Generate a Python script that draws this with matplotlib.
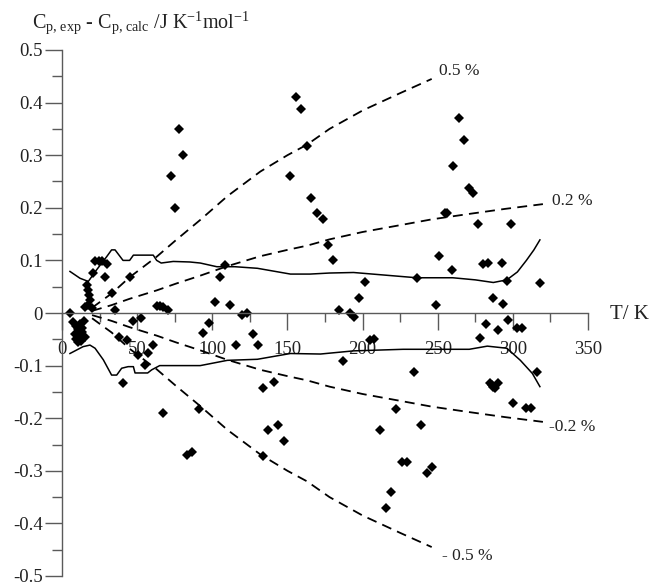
import matplotlib
matplotlib.use("Agg")
import matplotlib.pyplot as plt
import numpy as np

plt.rcParams['font.family'] = ['Liberation Serif', 'DejaVu Serif']
plt.rcParams['mathtext.fontset'] = 'custom'
plt.rcParams['mathtext.rm'] = 'Liberation Serif'
plt.rcParams['mathtext.it'] = 'Liberation Serif:italic'

# ---------------- data ----------------
pts_T = [5.5, 7.5, 9.5, 12, 14.5, 8.5, 10.5, 11.5, 12.5, 13.5, 15, 10.5, 9, 13,
         15.3, 17.3, 19.7, 16.4, 17.5, 18, 18.6, 20.7, 22, 24.5, 26.4, 30, 28.6, 33, 35, 45,
         38, 43, 47.5, 52.5, 50.3, 55.5, 57.3, 60.7, 40.7, 63, 65, 67.5, 70.8, 67.5, 83, 86.5, 91,
         72.5, 75, 78, 80.3, 94, 98, 102, 105, 108.5, 112, 116, 119.5, 123, 127, 130.5,
         134, 141, 137, 144, 148, 134,
         155.7, 159, 162.8, 152, 166, 169.7, 173.5, 177, 180.5, 201.6, 197.8, 184, 191.6, 194.5,
         187, 205, 207.5, 234, 222.5, 211.6, 239, 226, 229.3, 242.6, 246, 218.7, 215.6,
         236, 249, 250.8, 254.8, 256.4, 259.3, 260.4, 264.4, 267.5, 270.8, 273.7, 277, 280, 283.2,
         292.5, 298.7, 296, 318, 286.5, 293.6, 297, 282, 290, 278, 303, 306,
         284.8, 287, 290, 288, 286, 315.8, 300, 308.7, 312]
pts_v = [0.0, -0.018, -0.025, -0.02, -0.016, -0.04, -0.03, -0.046, -0.053, -0.036, -0.045, -0.055, -0.05, -0.028,
         0.012, 0.016, 0.01, 0.053, 0.044, 0.034, 0.025, 0.076, 0.099, 0.099, 0.099, 0.094, 0.069, 0.038, 0.006, 0.069,
         -0.045, -0.051, -0.015, -0.01, -0.08, -0.099, -0.076, -0.061, -0.133, 0.013, 0.013, 0.012, 0.005, -0.19, -0.27, -0.264, -0.182,
         0.26, 0.2, 0.35, 0.3, -0.038, -0.019, 0.02, 0.069, 0.091, 0.015, -0.061, -0.004, 0.0, -0.039, -0.061,
         -0.142, -0.132, -0.222, -0.212, -0.243, -0.272,
         0.41, 0.388, 0.318, 0.26, 0.219, 0.19, 0.179, 0.129, 0.1, 0.059, 0.028, 0.005, 0.0, -0.008,
         -0.092, -0.051, -0.05, -0.113, -0.182, -0.223, -0.212, -0.283, -0.283, -0.304, -0.293, -0.341, -0.371,
         0.067, 0.016, 0.109, 0.19, 0.19, 0.082, 0.28, 0.37, 0.329, 0.237, 0.228, 0.169, 0.094, 0.096,
         0.096, 0.169, 0.061, 0.057, 0.029, 0.017, -0.013, -0.021, -0.032, -0.047, -0.029, -0.029,
         -0.134, -0.14, -0.134, -0.143, -0.137, -0.112, -0.172, -0.181, -0.181]

# 0.5 % and 0.2 % of Cp
p05_T = [20, 33, 45, 63, 76, 92, 110, 132, 150, 163, 178, 200, 225, 246]
p05_v = [0.01, 0.037, 0.068, 0.107, 0.139, 0.177, 0.222, 0.269, 0.300, 0.320, 0.350, 0.385, 0.418, 0.445]
p02_T = [20, 33, 45, 63, 76, 92, 110, 132, 150, 163, 178, 200, 225, 246, 270, 295, 320]
p02_v = [0.004, 0.015, 0.027, 0.043, 0.056, 0.071, 0.089, 0.108, 0.120, 0.128, 0.140, 0.154, 0.167,
         0.178, 0.188, 0.198, 0.207]

# solid envelopes
up_T = [5.3, 12, 17.5, 23, 29.7, 33, 35.3, 40.6, 45, 47.5, 60.7, 63, 66, 74, 85, 92, 103, 115, 130,
        152, 165, 178, 194, 215, 236, 260, 275, 287, 296, 303, 309, 314, 318]
up_v = [0.079, 0.066, 0.06, 0.082, 0.107, 0.12, 0.12, 0.1, 0.1, 0.11, 0.11, 0.1, 0.095, 0.098, 0.097,
        0.095, 0.088, 0.088, 0.085, 0.074, 0.074, 0.076, 0.077, 0.072, 0.067, 0.067, 0.063, 0.058,
        0.063, 0.078, 0.1, 0.12, 0.139]
lo_T = [5.3, 14, 18.6, 22, 27.5, 33, 36.4, 39.7, 44, 47.5, 48.6, 57, 59.7, 65, 92, 110, 130, 152,
        172, 194, 227, 271, 283, 296, 305, 313, 318]
lo_v = [-0.077, -0.064, -0.061, -0.067, -0.089, -0.118, -0.118, -0.105, -0.102, -0.102, -0.114,
        -0.114, -0.108, -0.1, -0.1, -0.09, -0.088, -0.077, -0.078, -0.072, -0.069, -0.069, -0.063,
        -0.067, -0.09, -0.115, -0.14]

x_ticks = [0, 50, 100, 150, 200, 250, 300, 350]
x_labels = ['0', '50', '100', '150', '200', '250', '300', '350']
y_ticks = [0.5, 0.4, 0.3, 0.2, 0.1, 0.0, -0.1, -0.2, -0.3, -0.4, -0.5]
y_labels = ['0.5', '0.4', '0.3', '0.2', '0.1', '0', '-0.1', '-0.2', '-0.3', '-0.4', '-0.5']

# ---------------- figure ----------------
fig = plt.figure(figsize=(6.52, 5.83), dpi=100)
ax = fig.add_axes([62/652, 1-576/583, (588-62)/652, (576-50)/583])
ax.set_xlim(0, 350)
ax.set_ylim(-0.5, 0.5)

axcol = '#5a5a5a'
txtcol = '#222222'

ax.plot(p05_T, p05_v, color='black', lw=1.3, dashes=(5.5, 3.5))
ax.plot(p05_T, [-v for v in p05_v], color='black', lw=1.3, dashes=(5.5, 3.5))
ax.plot(p02_T, p02_v, color='black', lw=1.3, dashes=(5.5, 3.5))
ax.plot(p02_T, [-v for v in p02_v], color='black', lw=1.3, dashes=(5.5, 3.5))
ax.plot(up_T, up_v, color='black', lw=1.1)
ax.plot(lo_T, lo_v, color='black', lw=1.1)
ax.plot(pts_T, pts_v, linestyle='none', marker='D', ms=5.0, color='black', mew=0)

for s in ['top', 'right']:
    ax.spines[s].set_visible(False)
ax.spines['bottom'].set_position(('data', 0))
for s in ['left', 'bottom']:
    ax.spines[s].set_color(axcol)
    ax.spines[s].set_linewidth(1.0)

ax.set_xticks(x_ticks)
ax.set_xticklabels(x_labels)
ax.set_xticks(np.arange(25, 350, 50), minor=True)
ax.set_yticks(y_ticks)
ax.set_yticklabels(y_labels)
ax.set_yticks(np.arange(-0.45, 0.5, 0.1), minor=True)

ax.tick_params(axis='x', which='major', direction='out', length=12.5, width=1.0, color=axcol,
               pad=7.5, labelsize=13.5, labelcolor=txtcol)
ax.tick_params(axis='x', which='minor', direction='out', length=6.5, width=1.0, color=axcol)
ax.tick_params(axis='y', which='major', direction='out', length=12.5, width=1.0, color=axcol,
               pad=1.5, labelsize=13.5, labelcolor=txtcol)
ax.tick_params(axis='y', which='minor', direction='out', length=7, width=1.0, color=axcol)

# curve labels
ax.text(251, 0.46, '0.5 %', fontsize=12.5, color=txtcol, va='center', ha='left')
ax.text(326, 0.213, '0.2 %', fontsize=12.5, color=txtcol, va='center', ha='left')
ax.text(324, -0.217, '-0.2 %', fontsize=12.5, color=txtcol, va='center', ha='left')
ax.text(253, -0.462, '- 0.5 %', fontsize=12.5, color=txtcol, va='center', ha='left')

ax.text(364.5, -0.003, 'T/ K', fontsize=15, color=txtcol, va='center', ha='left', clip_on=False)

fig.text(32/652, 1-28/583,
         r'C$_{\mathrm{p,\,exp}}$ - C$_{\mathrm{p,\,calc}}$ /J K$^{\mathrm{-1}}$mol$^{\mathrm{-1}}$',
         fontsize=14.5, color=txtcol, va='baseline', ha='left')

fig.savefig('out.png', dpi=100)
